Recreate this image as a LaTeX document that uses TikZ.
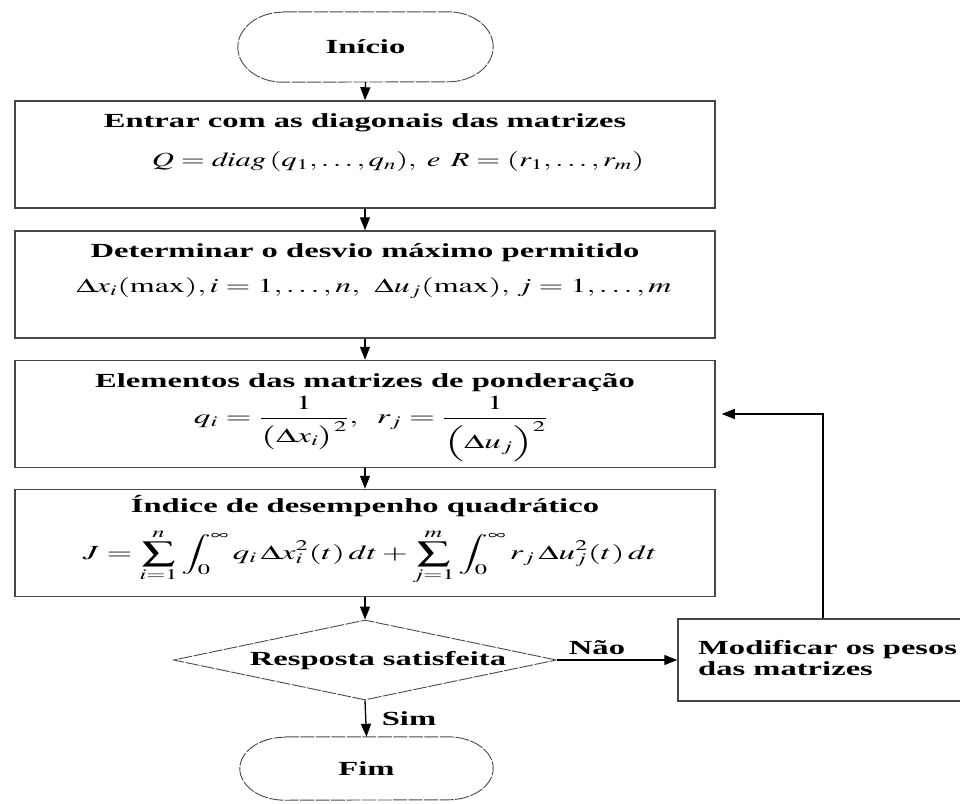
\documentclass[tikz,border=0pt]{standalone}
\usepackage{mathptmx}
\usepackage{graphicx}
\usepackage{fontspec}
\setmainfont{Liberation Serif}[FakeStretch=1.63]
\usetikzlibrary{arrows.meta,shapes.geometric,calc}

\definecolor{boxgray}{HTML}{474747}
\definecolor{termgray}{HTML}{4A4A4A}

\tikzset{
  procbox/.style={draw=boxgray, line width=1.5pt, fill=white, inner sep=0pt},
  lbl/.style={font=\bfseries\fontsize{20}{21}\selectfont, inner sep=0pt},
  mth/.style={font=\fontsize{20}{24}\selectfont, inner sep=0pt},
  flow/.style={draw=black, line width=1.3pt, -{Triangle[length=13pt,width=10pt]}},
  termline/.style={draw=termgray, line width=0.9pt, dash pattern=on 14pt off 1.5pt},
  decbox/.style={diamond, termline, inner sep=0pt},
}

% outline of a terminal (start/end) node with elliptic ends
\newcommand{\termoutline}[3]{%
  \draw[termline] ($(#1.north west)+(#2,0)$) -- ($(#1.north east)-(#2,0)$)
    arc[start angle=90,end angle=-90,x radius=#2pt,y radius=#3pt]
    -- ($(#1.south west)+(#2,0)$)
    arc[start angle=270,end angle=90,x radius=#2pt,y radius=#3pt] -- cycle;}

\begin{document}
\begin{tikzpicture}[x=1pt,y=-1pt]
\useasboundingbox (0,0) rectangle (960,803);
\fill[white] (0,0) rectangle (960,803);

% start
\node[lbl, minimum width=255pt, minimum height=70pt] (inicio) at (365.5,47) {Início};
\termoutline{inicio}{45}{35}

% step 1
\node[procbox, minimum width=700pt, minimum height=107pt] (b1) at (365,154.5) {};
\node[lbl] (b1a) at (365,123) {Entrar com as diagonais das matrizes};
\node[mth] (b1b) at (398,161) {\resizebox{492pt}{\height}{$Q = \mathit{diag}\,(q_1,\ldots,q_n),\; e\;\, R = (r_1,\ldots,r_m)$}};

% step 2
\node[procbox, minimum width=700pt, minimum height=107pt] (b2) at (365,284.5) {};
\node[lbl] (b2a) at (365,253) {Determinar o desvio máximo permitido};
\node[mth] (b2b) at (374,288) {\resizebox{595pt}{\height}{$\Delta x_i(\max), i = 1,\ldots, n,\;\, \Delta u_j(\max),\, j = 1,\ldots, m$}};

% step 3
\node[procbox, minimum width=700pt, minimum height=107pt] (b3) at (365,414) {};
\node[lbl] (b3a) at (365,383) {Elementos das matrizes de ponderação};
\node[mth] (b3b) at (371,429) {\resizebox{354pt}{\height}{$\displaystyle q_i = \frac{1}{\bigl(\Delta x_i\bigr)^2},\;\; r_j = \frac{1}{\Bigl(\Delta u_j\Bigr)^2}$}};

% step 4
\node[procbox, minimum width=700pt, minimum height=107pt] (b4) at (365,543) {};
\node[lbl] (b4a) at (365,506) {Índice de desempenho quadrático};
\node[mth] (b4b) at (370,557) {\resizebox{574pt}{\height}{$\displaystyle J = \sum_{i=1}^{n}\int_0^{\infty} q_i\,\Delta x_i^2(t)\,dt + \sum_{j=1}^{m}\int_0^{\infty} r_j\,\Delta u_j^2(t)\,dt$}};

% decision
\node[decbox, minimum width=383pt, minimum height=80pt] (dec) at (365,660) {};
\node[lbl] (dect) at (378,661) {Resposta satisfeita};

% correction step
\node[procbox, minimum width=290pt, minimum height=82pt] (mod) at (823,660) {};
\node[lbl, align=left, anchor=west] (modt) at (698,658) {Modificar os pesos\\das matrizes};

% end
\node[lbl, minimum width=253pt, minimum height=63pt] (fim) at (366.5,768.5) {Fim};
\termoutline{fim}{45}{31.5}

% connectors
\draw[flow] (inicio.south) -- (b1.north);
\draw[flow] (b1.south) -- (b2.north);
\draw[flow] (b2.south) -- (b3.north);
\draw[flow] (b3.south) -- (b4.north);
\draw[flow] (b4.south) -- (dec.north);
\draw[flow] (dec.south) -- (fim.north);
\draw[flow] (dec.east) -- (mod.west);
\draw[flow, shorten >=6pt] (mod.north) |- (b3.east);

\node[lbl] (nao) at (597,648) {Não};
\node[lbl] (sim) at (409,719) {Sim};
\end{tikzpicture}
\end{document}
